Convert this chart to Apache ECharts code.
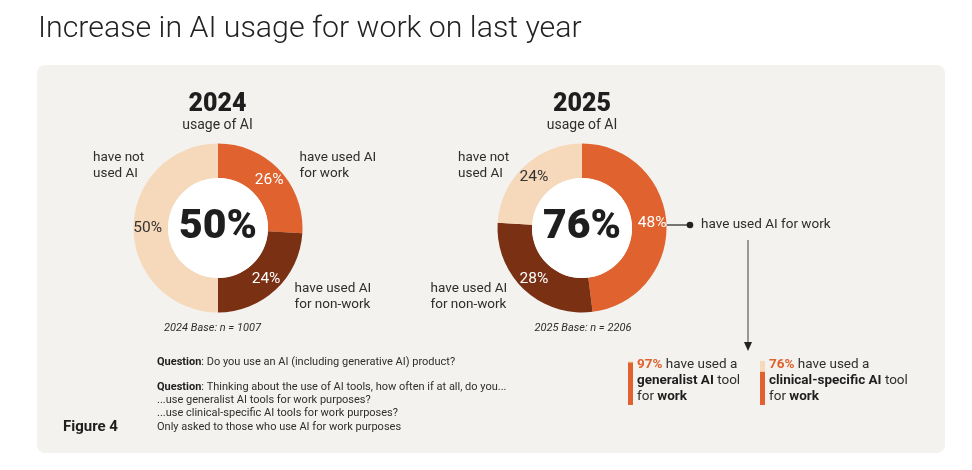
<!DOCTYPE html>
<html><head><meta charset="utf-8">
<script src="https://cdn.jsdelivr.net/npm/echarts@6/dist/echarts.min.js"></script>
<style>html,body{margin:0;padding:0;background:#fff}#c{width:972px;height:470px}</style>
</head><body><div id="c"></div>
<script>
// ---- data ----
const categories = ['have used AI for work', 'have used AI for non-work', 'have not used AI'];
const years = ['2024', '2025'];
const values2024 = [26, 24, 50];
const values2025 = [48, 28, 24];
const usageTotals = ['50%', '76%'];
const bases = ['2024 Base: n = 1007', '2025 Base: n = 2206'];
const toolShares = [97, 76];
const toolNames = ['generalist AI', 'clinical-specific AI'];

// ---- styles ----
const F = 'Roboto, "Liberation Sans", sans-serif';
const ORANGE = '#e0622f', BROWN = '#7a3013', PEACH = '#f6d8ba';
const sliceColors = [ORANGE, BROWN, PEACH];
const labelColors = ['#ffffff', '#ffffff', '#333333'];
const INK = '#1e1e1e', TXT = '#2e2e2e';
const centers = [[218, 228], [582, 228]];

function donut(vals, center) {
  return {
    type: 'pie', center: center, radius: [50, 84.5], startAngle: 90, clockwise: true,
    silent: true, avoidLabelOverlap: false, z: 3,
    label: { show: true, position: 'inside', formatter: '{c}%', fontSize: 15.5, fontFamily: F },
    labelLine: { show: false },
    itemStyle: { borderWidth: 0 },
    data: vals.map((v, i) => ({ value: v, name: categories[i], itemStyle: { color: sliceColors[i] }, label: { color: labelColors[i] } }))
  };
}
function hole(total, center) {
  return {
    type: 'pie', center: center, radius: [0, 50], silent: true, z: 3,
    label: { show: true, position: 'center', formatter: total, fontSize: 41, fontWeight: 900, fontFamily: F, color: INK },
    labelLine: { show: false },
    data: [{ value: 1, name: total, itemStyle: { color: '#ffffff' } }]
  };
}
function txt(x, y, text, extra) {
  return { type: 'text', x: x, y: y, z: 10, style: Object.assign({ text: text, fontFamily: F, fontSize: 13.5, fill: TXT, align: 'left', verticalAlign: 'middle', lineHeight: 16 }, extra || {}) };
}

const graphics = [
  { type: 'rect', z: -10, shape: { x: 37, y: 65, width: 908, height: 388, r: 8 }, style: { fill: '#f4f2ee' } },
  txt(38, 29, 'Increase in AI usage for work on last year', { fontSize: 30.3, fontWeight: 300, fill: '#222' }),
  // 2024 headings
  txt(217.5, 105, years[0], { fontSize: 25, fontWeight: 900, fill: INK, align: 'center' }),
  txt(217.5, 125, 'usage of AI', { fontSize: 14, align: 'center' }),
  txt(93, 165.5, 'have not\nused AI'),
  txt(299.5, 165.5, 'have used AI\nfor work'),
  txt(294.5, 297, 'have used AI\nfor non-work'),
  txt(212.5, 328, bases[0], { fontSize: 11, fontStyle: 'italic', align: 'center' }),
  // 2025 headings
  txt(582, 105, years[1], { fontSize: 25, fontWeight: 900, fill: INK, align: 'center' }),
  txt(582, 125, 'usage of AI', { fontSize: 14, align: 'center' }),
  txt(458, 165.5, 'have not\nused AI'),
  txt(430.5, 297, 'have used AI\nfor non-work'),
  txt(583, 328, bases[1], { fontSize: 11, fontStyle: 'italic', align: 'center' }),
  // connector
  { type: 'line', z: 10, shape: { x1: 667, y1: 225, x2: 690, y2: 225 }, style: { stroke: '#222', lineWidth: 1.2 } },
  { type: 'circle', z: 10, shape: { cx: 690, cy: 225, r: 3.3 }, style: { fill: '#222' } },
  txt(701, 225, categories[0]),
  { type: 'line', z: 10, shape: { x1: 748, y1: 240, x2: 748, y2: 344 }, style: { stroke: '#666', lineWidth: 1.3 } },
  { type: 'polygon', z: 10, shape: { points: [[744, 342], [752, 342], [748, 351]] }, style: { fill: '#222' } },
  // tool boxes
  txt(637, 381, '{o|' + toolShares[0] + '%} have used a\n{b|' + toolNames[0] + '} tool\nfor {b|work}', {
    fontSize: 13.5, rich: { o: { fill: ORANGE, fontWeight: 'bold', fontSize: 13.5, fontFamily: F, lineHeight: 16 }, b: { fill: INK, fontWeight: 'bold', fontSize: 13.5, fontFamily: F, lineHeight: 16 } } }),
  txt(769, 381, '{o|' + toolShares[1] + '%} have used a\n{b|' + toolNames[1] + '} tool\nfor {b|work}', {
    fontSize: 13.5, rich: { o: { fill: ORANGE, fontWeight: 'bold', fontSize: 13.5, fontFamily: F, lineHeight: 16 }, b: { fill: INK, fontWeight: 'bold', fontSize: 13.5, fontFamily: F, lineHeight: 16 } } }),
  // questions
  txt(157, 362, '{b|Question}: Do you use an AI (including generative AI) product?', {
    fontSize: 11, lineHeight: 13.3, rich: { b: { fontWeight: 'bold', fill: INK, fontSize: 11, fontFamily: F, lineHeight: 13.3 } } }),
  txt(157, 407, '{b|Question}: Thinking about the use of AI tools, how often if at all, do you...\n...use generalist AI tools for work purposes?\n...use clinical-specific AI tools for work purposes?\nOnly asked to those who use AI for work purposes', {
    fontSize: 11, lineHeight: 13.3, rich: { b: { fontWeight: 'bold', fill: INK, fontSize: 11, fontFamily: F, lineHeight: 13.3 } } }),
  txt(63, 427, 'Figure 4', { fontSize: 15, fontWeight: 'bold', fill: INK })
];

function barSeries(idx) {
  return [
    { type: 'bar', xAxisIndex: idx, yAxisIndex: idx, stack: 's' + idx, barWidth: '100%', silent: true, data: [toolShares[idx]], itemStyle: { color: ORANGE } },
    { type: 'bar', xAxisIndex: idx, yAxisIndex: idx, stack: 's' + idx, barWidth: '100%', silent: true, data: [100 - toolShares[idx]], itemStyle: { color: PEACH } }
  ];
}

const option = {
  animation: false,
  backgroundColor: '#ffffff',
  grid: [
    { left: 628, top: 361, width: 5, height: 44 },
    { left: 760, top: 361, width: 5, height: 44 }
  ],
  xAxis: [0, 1].map(i => ({ type: 'category', gridIndex: i, data: [toolNames[i]], show: false })),
  yAxis: [0, 1].map(i => ({ type: 'value', gridIndex: i, min: 0, max: 100, show: false })),
  graphic: { elements: graphics },
  series: [
    donut(values2024, centers[0]), hole(usageTotals[0], centers[0]),
    donut(values2025, centers[1]), hole(usageTotals[1], centers[1])
  ].concat(barSeries(0), barSeries(1))
};

const chart = echarts.init(document.getElementById('c'), null, { renderer: 'canvas' });
chart.setOption(option);
</script>
</body></html>
